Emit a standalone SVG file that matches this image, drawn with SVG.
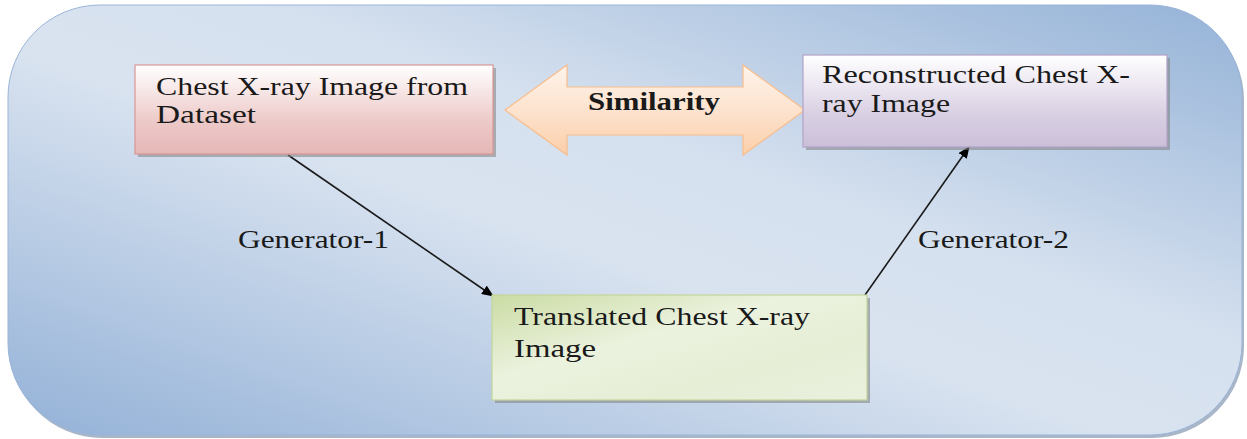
<svg xmlns="http://www.w3.org/2000/svg" width="1247" height="439" viewBox="0 0 1247 439">
<defs>
<linearGradient id="bg" x1="0" y1="1" x2="1" y2="0">
<stop offset="0" stop-color="#93b1d7"/>
<stop offset="0.45" stop-color="#d9e3f0"/>
<stop offset="0.6" stop-color="#d6e1ef"/>
<stop offset="1" stop-color="#94b2d7"/>
</linearGradient>
<linearGradient id="pink" x1="0" y1="0" x2="0" y2="1">
<stop offset="0" stop-color="#ffffff"/>
<stop offset="0.65" stop-color="#ecc8c7"/>
<stop offset="1" stop-color="#e5b8b7"/>
</linearGradient>
<linearGradient id="purple" x1="0" y1="0" x2="0" y2="1">
<stop offset="0" stop-color="#ffffff"/>
<stop offset="0.65" stop-color="#d9cfe3"/>
<stop offset="1" stop-color="#cbbfd9"/>
</linearGradient>
<linearGradient id="green" x1="0" y1="0" x2="1" y2="1">
<stop offset="0" stop-color="#cbdca4"/>
<stop offset="0.4" stop-color="#ebf2de"/>
<stop offset="0.7" stop-color="#e6eed6"/>
<stop offset="1" stop-color="#e9f0dd"/>
</linearGradient>
<linearGradient id="peach" x1="0" y1="0" x2="0" y2="1">
<stop offset="0" stop-color="#fef3ea"/>
<stop offset="0.5" stop-color="#fde3cf"/>
<stop offset="1" stop-color="#fbcfa9"/>
</linearGradient>
<marker id="ah" viewBox="0 0 12 10" refX="11" refY="5" markerWidth="12" markerHeight="10" markerUnits="userSpaceOnUse" orient="auto">
<path d="M0,0 L12,5 L0,10 Z" fill="#000"/>
</marker>
<style>
.t{font-family:'Liberation Serif','DejaVu Serif','Times New Roman',serif;font-size:25px;fill:#1a1a1a}
.b{font-weight:bold}
.sh{fill:#7f7f7f;opacity:0.55}
.conn{stroke:#1a1a1a;stroke-width:1.6;fill:none;marker-end:url(#ah)}
</style>
</defs>

<g id="background">
<rect x="10" y="8" width="1234" height="430" rx="92" ry="92" fill="#6f85a3" opacity="0.6"/>
<rect x="8" y="5" width="1234" height="430" rx="92" ry="92" fill="url(#bg)" stroke="#9bb5d8" stroke-width="1"/>
</g>

<g id="connectors">
<line class="conn" x1="288" y1="155" x2="493" y2="296"/>
<line class="conn" x1="865" y1="295" x2="969" y2="147"/>
</g>

<g id="similarity">
<polygon points="505,110 567,65 567,87 743,87 743,65 805,110 743,155 743,135 567,135 567,155" fill="url(#peach)" stroke="#f8bd8c" stroke-width="1.2"/>
<text class="t b" font-family="Liberation Serif, DejaVu Serif, serif" x="588" y="110" textLength="132" lengthAdjust="spacingAndGlyphs">Similarity</text>
</g>

<g id="node-source">
<rect class="sh" x="138" y="68" width="358" height="89"/>
<rect x="135" y="65" width="358" height="89" fill="url(#pink)" stroke="#d99795" stroke-width="1.2"/>
<text class="t" x="156" y="95" textLength="312" lengthAdjust="spacingAndGlyphs">Chest X-ray Image from</text>
<text class="t" x="156" y="123" textLength="100" lengthAdjust="spacingAndGlyphs">Dataset</text>
</g>

<g id="node-reconstructed">
<rect class="sh" x="806" y="58" width="364" height="92"/>
<rect x="803" y="55" width="364" height="92" fill="url(#purple)" stroke="#b3a2c7" stroke-width="1.2"/>
<text class="t" x="822" y="83" textLength="308" lengthAdjust="spacingAndGlyphs">Reconstructed Chest X-</text>
<text class="t" x="822" y="112" textLength="128" lengthAdjust="spacingAndGlyphs">ray Image</text>
</g>

<g id="node-translated">
<rect class="sh" x="495" y="298" width="375" height="105"/>
<rect x="492" y="295" width="375" height="105" fill="url(#green)" stroke="#c3d69b" stroke-width="1.2"/>
<text class="t" x="514" y="325" textLength="296" lengthAdjust="spacingAndGlyphs">Translated Chest X-ray</text>
<text class="t" x="514" y="357" textLength="82" lengthAdjust="spacingAndGlyphs">Image</text>
</g>

<g id="labels">
<text class="t" x="238" y="248" textLength="151" lengthAdjust="spacingAndGlyphs">Generator-1</text>
<text class="t" x="918" y="248" textLength="151" lengthAdjust="spacingAndGlyphs">Generator-2</text>
</g>
</svg>
